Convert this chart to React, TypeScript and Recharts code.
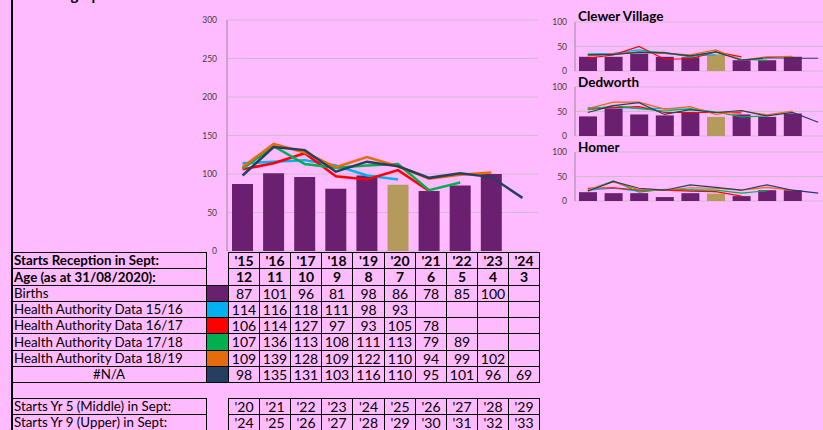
import React from "react";
import { ComposedChart, Bar, Line, XAxis, YAxis, CartesianGrid, Cell } from "recharts";

// ---------- Main chart data ----------
const categories = ["'15", "'16", "'17", "'18", "'19", "'20", "'21", "'22", "'23", "'24"];
const ages = ["12", "11", "10", "9", "8", "7", "6", "5", "4", "3"];
const births = [87, 101, 96, 81, 98, 86, 78, 85, 100, null];
const ha1516 = [114, 116, 118, 111, 98, 93, null, null, null, null];
const ha1617 = [106, 114, 127, 97, 93, 105, 78, null, null, null];
const ha1718 = [107, 136, 113, 108, 111, 113, 79, 89, null, null];
const ha1819 = [109, 139, 128, 109, 122, 110, 94, 99, 102, null];
const naSeries = [98, 135, 131, 103, 116, 110, 95, 101, 96, 69];
const yr5Labels = ["'20", "'21", "'22", "'23", "'24", "'25", "'26", "'27", "'28", "'29"];
const yr9Labels = ["'24", "'25", "'26", "'27", "'28", "'29", "'30", "'31", "'32", "'33"];
const mainTicks = [0, 50, 100, 150, 200, 250, 300];
const smallTicks = [0, 50, 100];

// ---------- Small charts data ----------
const clewerBirths = [29, 29, 35, 29, 28, 34, 22, 22, 29, null];
const clewer1516 = [35, 36, 43, 36, 31, 33, null, null, null, null];
const clewer1617 = [26, 33, 50, 24, 25, 39, 29, null, null, null];
const clewer1718 = [33, 34, 39, 38, 29, 39, 24, 22, null, null];
const clewer1819 = [31, 35, 38, 36, 33, 43, 22, 29, 30, null];
const clewerNA = [33, 34, 38, 37, 31, 39, 22, 27, 26, 26];

const dedBirths = [40, 56, 44, 42, 48, 39, 44, 39, 46, null];
const ded1516 = [58, 58, 57, 56, 54, 48, null, null, null, null];
const ded1617 = [55, 58, 60, 48, 48, 48, 47, null, null, null];
const ded1718 = [53, 62, 56, 51, 56, 49, 39, 41, null, null];
const ded1819 = [56, 69, 69, 55, 60, 44, 51, 43, 51, null];
const dedNA = [48, 62, 68, 44, 54, 48, 52, 41, 48, 28];

const homBirths = [18, 16, 16, 8, 16, 15, 10, 22, 22, null];
const hom1516 = [22, 26, 20, 23, 22, 19, null, null, null, null];
const hom1617 = [26, 27, 22, 22, 20, 19, 10, null, null, null];
const hom1718 = [22, 41, 18, 24, 23, 22, 16, 21, null, null];
const hom1819 = [23, 39, 23, 22, 27, 26, 22, 28, 22, null];
const homNA = [20, 40, 26, 22, 33, 28, 22, 33, 22, 16];

const seriesNames = [
  "Births",
  "Health Authority Data 15/16",
  "Health Authority Data 16/17",
  "Health Authority Data 17/18",
  "Health Authority Data 18/19",
  "#N/A",
];

// ---------- Styles ----------
const BG = "#FFBBFF";
const PURPLE = "#6B1F6F";
const TAN = "#B59B5B";
const BLUE = "#00B0F0";
const RED = "#FF0000";
const GREEN = "#00B050";
const ORANGE = "#E46C0A";
const NAVY = "#243F60";
const seriesColors = [PURPLE, BLUE, RED, GREEN, ORANGE, NAVY];
const FONT = "Lato, 'Open Sans', sans-serif";
const GRID = "#cdbccd";
const AXIS = "#9a8a9a";
const HIGHLIGHT = 5;

function buildRows(b: any[], s1: any[], s2: any[], s3: any[], s4: any[], s5: any[]) {
  return categories.map((c, i) => ({
    cat: c,
    births: b[i],
    s1: s1[i],
    s2: s2[i],
    s3: s3[i],
    s4: s4[i],
    s5: s5[i],
  }));
}

const mainData = buildRows(births, ha1516, ha1617, ha1718, ha1819, naSeries);
const clewerData = buildRows(clewerBirths, clewer1516, clewer1617, clewer1718, clewer1819, clewerNA);
const dedData = buildRows(dedBirths, ded1516, ded1617, ded1718, ded1819, dedNA);
const homData = buildRows(homBirths, hom1516, hom1617, hom1718, hom1819, homNA);

const lineKeys = [
  { key: "s1", color: BLUE },
  { key: "s2", color: RED },
  { key: "s3", color: GREEN },
  { key: "s4", color: ORANGE },
  { key: "s5", color: NAVY },
];

function SmallChart({ data, top, title, titleTop }: any) {
  return (
    <>
      <div
        style={{
          position: "absolute",
          left: 540,
          top,
          width: 291,
          height: 80,
        }}
      >
        <ComposedChart width={291} height={80} data={data} margin={{ top: 22, right: 0, bottom: 9, left: 0 }}>
          <CartesianGrid vertical={false} stroke={GRID} />
          <XAxis dataKey="cat" hide />
          <YAxis
            domain={[0, 100]}
            ticks={smallTicks}
            interval={0}
            width={35}
            tickLine={false}
            tickSize={0}
            tickMargin={8}
            axisLine={{ stroke: AXIS }}
            tick={{ fontSize: 8.5, fill: "#404040", fontFamily: FONT }}
          />
          <Bar dataKey="births" barSize={18} isAnimationActive={false}>
            {data.map((d: any, i: number) => (
              <Cell key={i} fill={i === HIGHLIGHT ? TAN : PURPLE} />
            ))}
          </Bar>
          {lineKeys.map((l) => (
            <Line
              key={l.key}
              type="linear"
              dataKey={l.key}
              stroke={l.color}
              strokeWidth={1.2}
              dot={false}
              activeDot={false}
              isAnimationActive={false}
            />
          ))}
        </ComposedChart>
      </div>
      <div
        style={{
          position: "absolute",
          left: 578,
          top: titleTop,
          fontFamily: FONT,
          fontWeight: 700,
          fontSize: 13.5,
          color: "#000",
          lineHeight: "14px",
        }}
      >
        {title}
      </div>
    </>
  );
}

const ROW0 = 252;
const ROWH = 16.25;
const COL0 = 228;
const COLW = 31.1;
const LABEL_L = 11;
const LABEL_R = 206;

function rowTop(i: number) {
  return Math.round(ROW0 + i * ROWH);
}
function colLeft(i: number) {
  return Math.round(COL0 + i * COLW);
}

function CellBox({ x, y, w, h, children, bold, align, bg, pad, size }: any) {
  return (
    <div
      style={{
        position: "absolute",
        left: x,
        top: y,
        width: w + 1,
        height: h + 1,
        boxSizing: "border-box",
        border: "1px solid #000",
        background: bg || "transparent",
        fontFamily: FONT,
        fontSize: size || 13.3,
        fontWeight: bold ? 700 : 400,
        color: "#000",
        lineHeight: `${h - 1}px`,
        textAlign: align || "center",
        paddingLeft: pad || 0,
        whiteSpace: "nowrap",
        overflow: "hidden",
      }}
    >
      {children}
    </div>
  );
}

function Table() {
  const rows: any[] = [];
  const dataRows: { label: string; values: any[]; bold?: boolean; color?: string; center?: boolean }[] = [
    { label: "Starts Reception in Sept:", values: categories, bold: true },
    { label: "Age (as at 31/08/2020):", values: ages, bold: true },
    { label: seriesNames[0], values: births, color: seriesColors[0] },
    { label: seriesNames[1], values: ha1516, color: seriesColors[1] },
    { label: seriesNames[2], values: ha1617, color: seriesColors[2] },
    { label: seriesNames[3], values: ha1718, color: seriesColors[3] },
    { label: seriesNames[4], values: ha1819, color: seriesColors[4] },
    { label: seriesNames[5], values: naSeries, color: seriesColors[5], center: true },
  ];
  dataRows.forEach((r, ri) => {
    const y = rowTop(ri);
    const h = rowTop(ri + 1) - y;
    rows.push(
      <CellBox key={`l${ri}`} x={LABEL_L} y={y} w={LABEL_R - LABEL_L} h={h} bold={r.bold} align={r.center ? "center" : "left"} pad={r.center ? 0 : 2}>
        {r.label}
      </CellBox>
    );
    if (r.color) {
      rows.push(<CellBox key={`c${ri}`} x={LABEL_R} y={y} w={COL0 - LABEL_R} h={h} bg={r.color} />);
    }
    r.values.forEach((v, ci) => {
      const x = colLeft(ci);
      const w = colLeft(ci + 1) - x;
      rows.push(
        <CellBox key={`d${ri}_${ci}`} x={x} y={y} w={w} h={h} bold={r.bold} size={14}>
          {v === null ? "" : String(v)}
        </CellBox>
      );
    });
  });
  const extra = [
    { label: "Starts Yr 5 (Middle) in Sept:", values: yr5Labels, y: 398 },
    { label: "Starts Yr 9 (Upper) in Sept:", values: yr9Labels, y: 414 },
  ];
  extra.forEach((r, ri) => {
    const h = 16;
    rows.push(
      <CellBox key={`el${ri}`} x={LABEL_L} y={r.y} w={LABEL_R - LABEL_L} h={h} align="left" pad={2}>
        {r.label}
      </CellBox>
    );
    r.values.forEach((v, ci) => {
      const x = colLeft(ci);
      const w = colLeft(ci + 1) - x;
      rows.push(
        <CellBox key={`ed${ri}_${ci}`} x={x} y={r.y} w={w} h={h} size={14}>
          {v}
        </CellBox>
      );
    });
  });
  return <>{rows}</>;
}

export default function App() {
  return (
    <div
      style={{
        position: "fixed",
        left: 0,
        top: 0,
        width: 823,
        height: 430,
        overflow: "hidden",
        background: BG,
      }}
    >
      {/* Clipped title at very top (cut off in the reference) */}
      <div
        style={{
          position: "absolute",
          left: 30,
          top: -15,
          fontFamily: FONT,
          fontWeight: 700,
          fontSize: 15,
          lineHeight: "18px",
          color: "#000",
          whiteSpace: "nowrap",
        }}
      >
        Demographic Data for Windsor Schools
      </div>
      {/* Left frame line */}
      <div style={{ position: "absolute", left: 11, top: 0, width: 1.5, height: 430, background: "#000" }} />

      {/* Main chart */}
      <div style={{ position: "absolute", left: 0, top: 0, width: 560, height: 262 }}>
        <ComposedChart width={560} height={262} data={mainData} margin={{ top: 20, right: 22, bottom: 11, left: 0 }}>
          <CartesianGrid vertical={false} stroke={GRID} />
          <XAxis dataKey="cat" hide />
          <YAxis
            domain={[0, 300]}
            ticks={mainTicks}
            interval={0}
            width={227}
            tickLine={false}
            tickSize={0}
            tickMargin={10}
            axisLine={{ stroke: AXIS }}
            tick={{ fontSize: 8.5, fill: "#404040", fontFamily: FONT }}
          />
          <Bar dataKey="births" barSize={21} isAnimationActive={false}>
            {mainData.map((d, i) => (
              <Cell key={i} fill={i === HIGHLIGHT ? TAN : PURPLE} />
            ))}
          </Bar>
          {lineKeys.map((l) => (
            <Line
              key={l.key}
              type="linear"
              dataKey={l.key}
              stroke={l.color}
              strokeWidth={2.5}
              dot={false}
              activeDot={false}
              isAnimationActive={false}
            />
          ))}
        </ComposedChart>
      </div>

      <SmallChart data={clewerData} top={0} title="Clewer Village" titleTop={9} />
      <SmallChart data={dedData} top={65} title="Dedworth" titleTop={75} />
      <SmallChart data={homData} top={130} title="Homer" titleTop={140} />

      <Table />
    </div>
  );
}
